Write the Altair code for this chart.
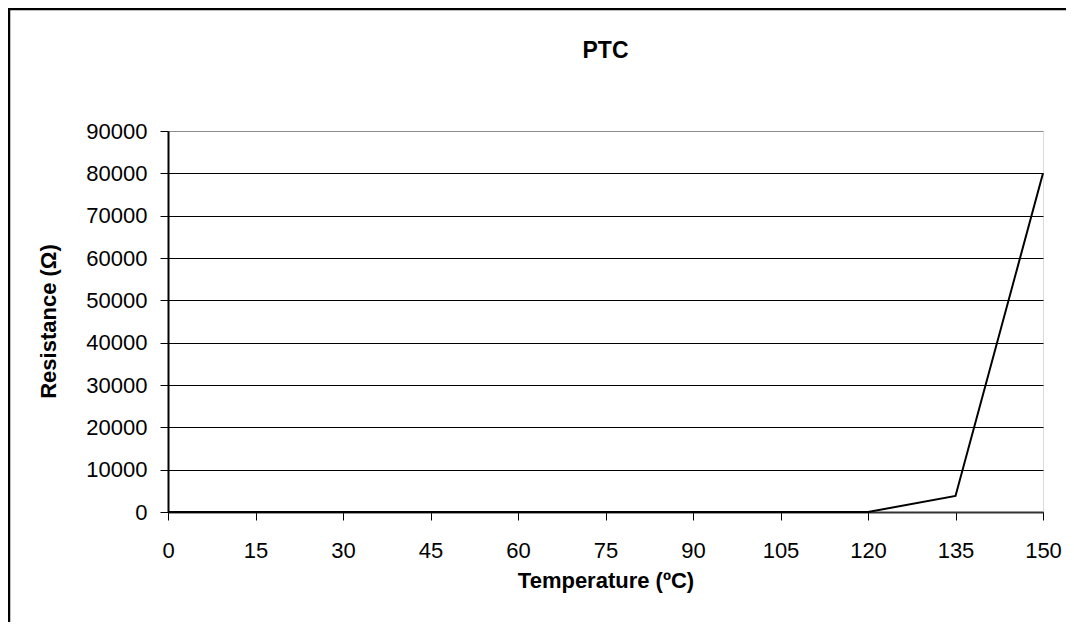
import altair as alt
import pandas as pd

temps = [0, 15, 30, 45, 60, 75, 90, 105, 120, 135, 150]
resistance = [0, 0, 0, 0, 0, 0, 0, 0, 0, 3800, 80000]
x_ticks = [0, 15, 30, 45, 60, 75, 90, 105, 120, 135, 150]
y_ticks = [0, 10000, 20000, 30000, 40000, 50000, 60000, 70000, 80000, 90000]

df = pd.DataFrame({"Temperature": temps, "Resistance": resistance})
FONT = "Liberation Sans"

line = alt.Chart(df).mark_line(color="black", strokeWidth=2).encode(
    x=alt.X(
        "Temperature:Q",
        scale=alt.Scale(domain=[0, 150], nice=False, zero=True),
        axis=alt.Axis(
            values=x_ticks,
            format="d",
            title="Temperature (ºC)",
            grid=False,
            domainColor="#333333",
            domainWidth=2,
            tickColor="black",
            tickSize=8,
            tickWidth=1,
            labelFont=FONT,
            labelFontSize=22,
            labelColor="black",
            labelPadding=20,
            labelFlush=False,
            titleFont=FONT,
            titleFontSize=22,
            titleFontWeight="bold",
            titleColor="black",
            titlePadding=9,
        ),
    ),
    y=alt.Y(
        "Resistance:Q",
        scale=alt.Scale(domain=[0, 90000], nice=False),
        axis=alt.Axis(
            values=y_ticks,
            format="d",
            title="Resistance (Ω)",
            grid=True,
            gridColor={"condition": {"test": "datum.value === 90000", "value": "#8c8c8c"}, "value": "black"},
            gridWidth=1,
            domainColor="black",
            domainWidth=2,
            tickColor="black",
            tickSize=8,
            tickWidth=1,
            labelFont=FONT,
            labelFontSize=22,
            labelColor="black",
            labelPadding=13,
            labelFlush=False,
            titleFont=FONT,
            titleFontSize=22,
            titleFontWeight="bold",
            titleColor="black",
            titleX=-113,
            titleY=190,
            titleAngle=270,
            titleAlign="center",
            titleBaseline="alphabetic",
        ),
    ),
)

border_df = pd.DataFrame({"a": [0]})
border = alt.Chart(border_df).mark_rect(
    fill="transparent", stroke="black", strokeWidth=2.5
).encode(
    x=alt.value(-159),
    x2=alt.value(1100),
    y=alt.value(-122),
    y2=alt.value(800),
)

chart = alt.layer(line, border).properties(
    width=875,
    height=381,
    title=alt.TitleParams(
        "PTC", font=FONT, fontSize=23, fontWeight="bold", color="black",
        anchor="middle", frame="group", offset=-55,
    ),
    padding={"left": 160, "top": 123, "right": 23, "bottom": 110},
    autosize=alt.AutoSizeParams(type="none"),
).configure_view(
    stroke="#8c8c8c", strokeWidth=2
).configure(background="white")

chart.save("out.html", embed_options={"renderer": "svg", "actions": False})
